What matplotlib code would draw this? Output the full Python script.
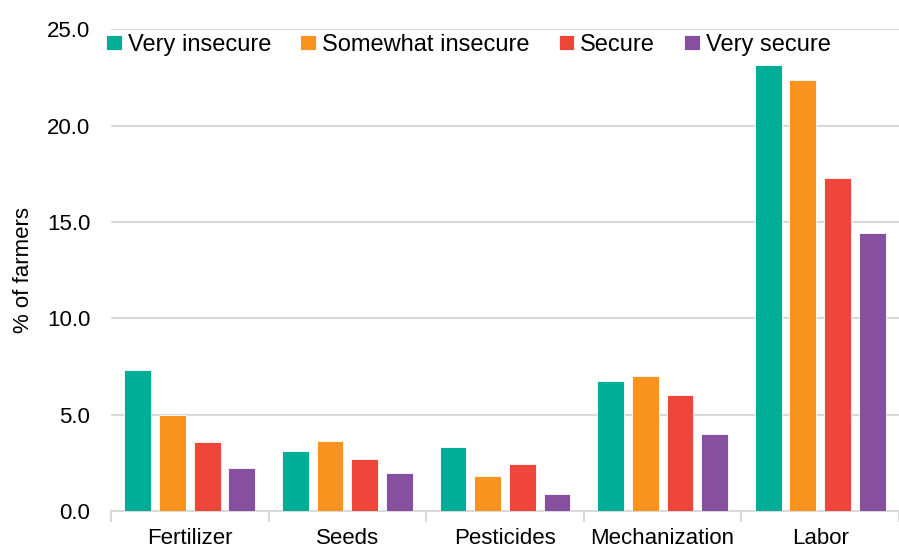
import numpy as np
import matplotlib.pyplot as plt

plt.rcParams['font.family'] = ['Liberation Sans', 'DejaVu Sans']
plt.rcParams['font.size'] = 16

categories = ['Fertilizer', 'Seeds', 'Pesticides', 'Mechanization', 'Labor']
series_names = ['Very insecure', 'Somewhat insecure', 'Secure', 'Very secure']
very_insecure = [7.33, 3.12, 3.33, 6.76, 23.13]
somewhat_insecure = [4.99, 3.64, 1.82, 7.02, 22.40]
secure = [3.59, 2.70, 2.44, 6.03, 17.31]
very_secure = [2.23, 1.98, 0.88, 4.00, 14.45]
colors = ['#00AE98', '#F7931E', '#EF463C', '#87509F']

values = [very_insecure, somewhat_insecure, secure, very_secure]

fig = plt.figure(figsize=(8.99, 5.5), dpi=100)
ax = fig.add_axes([0.1235, 0.0709, 0.8765, 0.8755])

x = np.arange(len(categories))
width = 0.17
step = 0.22
for i, (name, vals, c) in enumerate(zip(series_names, values, colors)):
    ax.bar(x + (i - 1.5) * step, vals, width, color=c, label=name,
           edgecolor='white', linewidth=0.6, zorder=3)

ax.set_xlim(-0.5, len(categories) - 0.5)
ax.set_ylim(0, 25)
ax.set_yticks(np.arange(0, 25.1, 5))
ax.set_yticklabels(['{:.1f}'.format(v) for v in np.arange(0, 25.1, 5)])
ax.yaxis.grid(True, color='#d9d9d9', linewidth=1.5, zorder=0)
ax.tick_params(axis='y', length=0, pad=15, labelsize=16)
ax.set_xticks(x)
ax.set_xticklabels(categories)
ax.tick_params(axis='x', which='major', length=0, pad=12, labelsize=16)
ax.set_xticks(np.arange(-0.5, len(categories)), minor=True)
ax.tick_params(axis='x', which='minor', length=8, width=1.5, color='#d9d9d9')
for s in ['top', 'right', 'left']:
    ax.spines[s].set_visible(False)
ax.spines['bottom'].set_color('#d9d9d9')
ax.spines['bottom'].set_linewidth(1.5)
ax.set_ylabel('% of farmers', fontsize=16, labelpad=9)

ax.legend(loc='upper left', bbox_to_anchor=(-0.033, 1.035), ncol=4, frameon=False,
          handlelength=0.65, handleheight=0.65, handletextpad=0.25,
          columnspacing=1.25, fontsize=17)

fig.savefig('out.png')
